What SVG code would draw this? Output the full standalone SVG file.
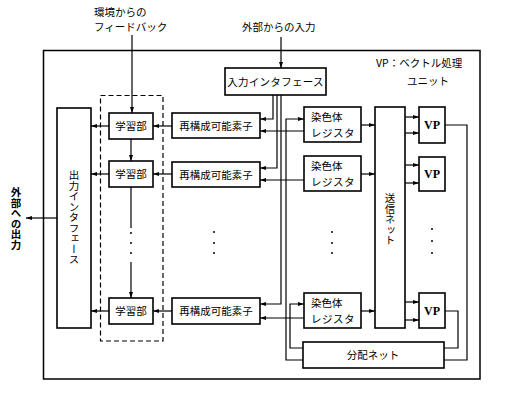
<svg xmlns="http://www.w3.org/2000/svg" width="520" height="405" viewBox="0 0 520 405">
<defs>
<marker id="ah" viewBox="0 0 6 4" refX="6" refY="2" markerWidth="6" markerHeight="4" markerUnits="userSpaceOnUse" orient="auto"><path d="M0,0 L6,2 L0,4 z" fill="#000"/></marker>
</defs>
<style>
.box{fill:#fff;stroke:#000;stroke-width:1.6}
.w{fill:none;stroke:#000;stroke-width:1.2}
.a{marker-end:url(#ah)}
.t{font-family:"Noto Sans CJK JP","Noto Sans CJK SC",sans-serif;font-size:10.5px;fill:#000}
.c{text-anchor:middle}
.v{writing-mode:vertical-rl}
.vp{font-family:"Liberation Serif",serif;font-weight:bold;font-size:12px;text-anchor:middle;fill:#000}
.dot{fill:#000}
</style>
<rect x="0" y="0" width="520" height="405" fill="#fff"/>
<g id="frame">
<rect x="43.5" y="50.5" width="436.5" height="328.5" fill="none" stroke="#000" stroke-width="1.5"/>
<rect x="100.5" y="95.5" width="62.5" height="245.5" fill="none" stroke="#000" stroke-width="1.2" stroke-dasharray="5,3"/>
</g>
<g id="connectors">
<path class="w a" d="M132,35 V113"/>
<path class="w a" d="M281,37 V68"/>
<path class="w a" d="M131,139 V161"/>
<path class="w" d="M131,187 V228"/>
<path class="w a" d="M131,262 V298"/>
<path class="w a" d="M109,126 H91"/>
<path class="w a" d="M109,174 H91"/>
<path class="w a" d="M109,311 H91"/>
<path class="w a" d="M57,218 H26"/>
<path class="w a" d="M172,126 H153"/>
<path class="w a" d="M172,174 H153"/>
<path class="w a" d="M172,311 H153"/>
<path class="w a" d="M273,95 V119 H260"/>
<path class="w a" d="M277,95 V168 H260"/>
<path class="w a" d="M281,95 V304 H260"/>
<path class="w a" d="M304,131 H260"/>
<path class="w a" d="M304,180 H260"/>
<path class="w a" d="M304,318 H260"/>
<path class="w a" d="M361,125 H375"/>
<path class="w a" d="M361,174 H375"/>
<path class="w a" d="M361,311 H375"/>
<path class="w a" d="M405,117 H419"/>
<path class="w a" d="M405,133 H419"/>
<path class="w a" d="M405,165 H419"/>
<path class="w a" d="M405,183 H419"/>
<path class="w a" d="M405,302 H419"/>
<path class="w a" d="M405,320 H419"/>
<path class="w" d="M445,125 H467 V360 H444" stroke-width="1.6"/>
<path class="w" d="M445,311 H458 V348 H444"/>
<path class="w a" d="M303,360 H286 V119 H304"/>
<path class="w a" d="M303,348 H290 V304 H304"/>
</g>
<g id="dots">
<circle class="dot" cx="131" cy="233" r="1"/><circle class="dot" cx="131" cy="243" r="1"/><circle class="dot" cx="131" cy="253" r="1"/>
<circle class="dot" cx="214" cy="232" r="1"/><circle class="dot" cx="214" cy="243" r="1"/><circle class="dot" cx="214" cy="253" r="1"/>
<circle class="dot" cx="332" cy="232" r="1"/><circle class="dot" cx="332" cy="243" r="1"/><circle class="dot" cx="332" cy="253" r="1"/>
<circle class="dot" cx="432" cy="229" r="1"/><circle class="dot" cx="432" cy="241" r="1"/><circle class="dot" cx="432" cy="253" r="1"/>
</g>
<g id="labels">
<text class="t" x="94" y="16" font-size="10">環境からの</text>
<text class="t" x="94" y="31" font-size="10">フィードバック</text>
<text class="t" x="242" y="31">外部からの入力</text>
<text class="t" x="376" y="67">VP：ベクトル処理</text>
<text class="t" x="407" y="85">ユニット</text>
<text class="t v" x="16" y="187" font-weight="bold">外部への出力</text>
</g>
<g id="input-if"><rect class="box" x="225" y="68" width="101" height="27"/><text class="t c" x="275.5" y="85.5" letter-spacing="0.3">入力インタフェース</text></g>
<g id="output-if"><rect class="box" x="57" y="108" width="34" height="220"/><text class="t v" x="74" y="170">出力インタフェース</text></g>
<g id="learn1"><rect class="box" x="109" y="113" width="44" height="26"/><text class="t c" x="131" y="130" font-size="11">学習部</text></g>
<g id="learn2"><rect class="box" x="109" y="161" width="44" height="26"/><text class="t c" x="131" y="178" font-size="11">学習部</text></g>
<g id="learn3"><rect class="box" x="109" y="298" width="44" height="26"/><text class="t c" x="131" y="315" font-size="11">学習部</text></g>
<g id="reconf1"><rect class="box" x="172" y="113" width="88" height="25"/><text class="t c" x="216" y="129.5">再構成可能素子</text></g>
<g id="reconf2"><rect class="box" x="172" y="162" width="88" height="25"/><text class="t c" x="216" y="178.5">再構成可能素子</text></g>
<g id="reconf3"><rect class="box" x="172" y="298" width="88" height="26"/><text class="t c" x="216" y="315">再構成可能素子</text></g>
<g id="chrom1"><rect class="box" x="304" y="107" width="57" height="35"/><text class="t" x="311" y="121" font-size="11">染色体</text><text class="t" x="311" y="137" letter-spacing="0.5">レジスタ</text></g>
<g id="chrom2"><rect class="box" x="304" y="156" width="57" height="35"/><text class="t" x="311" y="170" font-size="11">染色体</text><text class="t" x="311" y="186" letter-spacing="0.5">レジスタ</text></g>
<g id="chrom3"><rect class="box" x="304" y="293" width="57" height="35"/><text class="t" x="311" y="307" font-size="11">染色体</text><text class="t" x="311" y="323" letter-spacing="0.5">レジスタ</text></g>
<g id="send-net"><rect class="box" x="375" y="107" width="30" height="221"/><text class="t v" x="390" y="193" font-size="10">送信ネット</text></g>
<g id="vp1"><rect class="box" x="419" y="107" width="26" height="36"/><text class="vp" x="432" y="129">VP</text></g>
<g id="vp2"><rect class="box" x="419" y="157" width="26" height="34"/><text class="vp" x="432" y="178">VP</text></g>
<g id="vp3"><rect class="box" x="419" y="293" width="26" height="35"/><text class="vp" x="432" y="315">VP</text></g>
<g id="dist-net"><rect class="box" x="303" y="342" width="141" height="26"/><text class="t c" x="373" y="359">分配ネット</text></g>
</svg>
